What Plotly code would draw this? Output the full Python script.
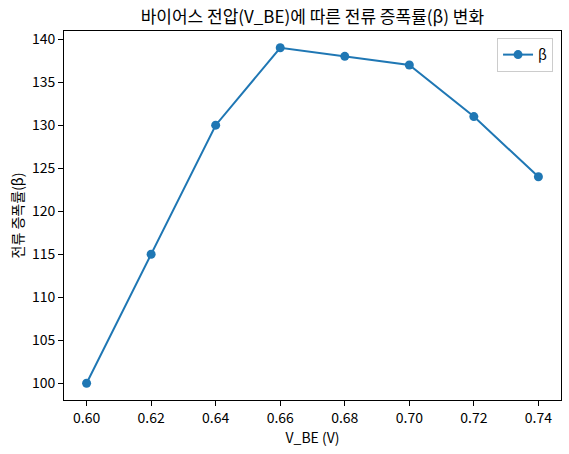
import plotly.graph_objects as go

v_be = [0.60, 0.62, 0.64, 0.66, 0.68, 0.70, 0.72, 0.74]
beta = [100, 115, 130, 139, 138, 137, 131, 124]
x_ticks = [0.60, 0.62, 0.64, 0.66, 0.68, 0.70, 0.72, 0.74]
y_ticks = [100, 105, 110, 115, 120, 125, 130, 135, 140]

font = "Noto Sans CJK KR"

fig = go.Figure()
fig.add_trace(go.Scatter(
  x=v_be, y=beta, mode="lines+markers", name="β",
  line=dict(color="#1f77b4", width=2),
  marker=dict(color="#1f77b4", size=9),
))

axis_style = dict(
  showline=True, linecolor="black", linewidth=1, mirror=True,
  ticks="outside", ticklen=5, tickcolor="black",
  showgrid=False, zeroline=False, automargin=False,
  tickfont=dict(size=14, color="black"),
)

fig.update_layout(
  width=569, height=454,
  margin=dict(l=64, r=8, t=31, b=54),
  paper_bgcolor="white", plot_bgcolor="white",
  font=dict(family=font, color="black", size=14),
  title=dict(text="바이어스 전압(V_BE)에 따른 전류 증폭률(β) 변화",
             x=0.549, xanchor="center", y=0.963, yanchor="middle",
             font=dict(size=17)),
  xaxis=dict(axis_style, range=[0.593, 0.747], tickvals=x_ticks,
             ticktext=[f"{t:.2f}" for t in x_ticks],
             title=dict(text="V_BE (V)", standoff=4, font=dict(size=14))),
  yaxis=dict(axis_style, range=[98.05, 140.95], tickvals=y_ticks,
             title=dict(text="전류 증폭률(β)", standoff=4, font=dict(size=14))),
  legend=dict(x=0.984, y=0.981, xanchor="right", yanchor="top",
              bordercolor="#cccccc", borderwidth=1, bgcolor="white",
              font=dict(size=14)),
  showlegend=True,
)

# plotly's page keeps the browser's default body margin, drop it
fig.write_html("out.html", config={"displayModeBar": False},
               post_script="document.body.style.margin='0';")
